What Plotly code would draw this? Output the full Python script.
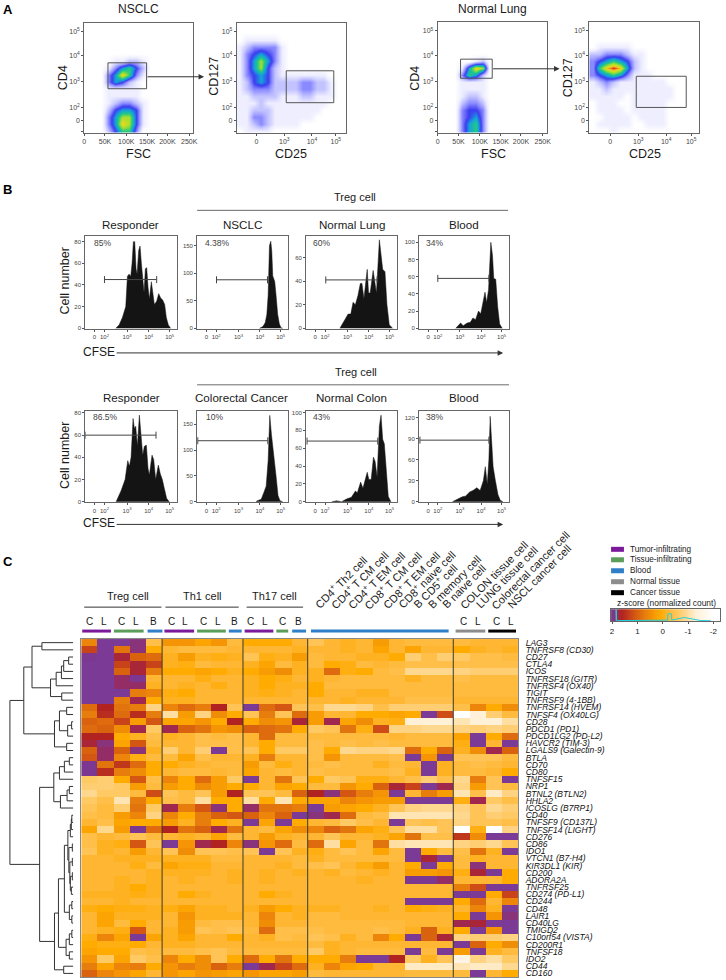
import numpy as np
import plotly.graph_objects as go

W, H = 726, 980
FONT = "Liberation Sans"

# ---------- Panel A: density (0-9 levels on a coarse display-channel grid)
GRID = [3.5, 10.5, 17.5, 24.5, 31.5, 38.5, 45.5, 52.5, 59.5, 66.5, 73.5, 80.5, 87.5, 94.5, 101.5, 108.5]
nsclc_cd4 = [
 [0]*16, [0]*16, [0]*16, [0]*16, [0]*16,
 [0,0,0,0,1,1,2,2,1,0,0,0,0,0,0,0],
 [0,0,0,1,3,5,6,4,2,0,0,0,0,0,0,0],
 [0,0,0,3,5,8,6,3,1,0,0,0,0,0,0,0],
 [0,0,0,3,5,4,2,1,0,0,0,0,0,0,0,0],
 [0,0,0,1,1,1,1,1,0,0,0,0,0,0,0,0],
 [0,0,0,1,1,1,1,1,0,0,0,0,0,0,0,0],
 [0,0,0,1,2,3,3,2,1,0,0,0,0,0,0,0],
 [0,0,0,2,4,5,5,4,1,0,0,0,0,0,0,0],
 [0,0,0,3,5,7,7,4,1,0,0,0,0,0,0,0],
 [0,0,0,3,5,8,7,4,1,0,0,0,0,0,0,0],
 [0,0,0,2,4,6,6,3,0,0,0,0,0,0,0,0],
]
nsclc_cd127 = [
 [0]*16, [0]*16,
 [0,1,1,1,1,1,0,0,0,0,0,0,0,0,0,0],
 [1,2,3,3,3,3,1,0,0,0,0,0,0,0,0,0],
 [1,3,4,5,4,3,1,0,0,0,0,0,0,0,0,0],
 [1,3,5,7,5,3,1,0,0,0,0,0,0,0,0,0],
 [1,3,5,7,4,2,1,0,0,0,0,0,0,0,0,0],
 [1,3,4,5,4,2,1,1,1,1,1,1,1,0,0,0],
 [1,2,4,5,4,2,2,2,2,3,3,2,2,1,0,0],
 [1,2,3,3,3,2,2,2,2,3,3,2,2,1,0,0],
 [1,1,2,2,2,2,1,1,1,2,2,1,1,1,0,0],
 [1,1,1,2,1,1,1,1,1,1,1,1,1,0,0,0],
 [1,1,2,2,2,1,1,1,1,1,1,1,0,0,0,0],
 [1,1,3,3,2,1,1,1,1,1,1,0,0,0,0,0],
 [1,1,2,3,2,1,1,1,1,0,0,0,0,0,0,0],
 [0,1,1,1,1,0,0,0,0,0,0,0,0,0,0,0],
]
lung_cd4 = [
 [0]*16, [0]*16, [0]*16, [0]*16, [0]*16,
 [0,0,0,0,0,1,2,0,0,0,0,0,0,0,0,0],
 [0,0,0,1,5,8,7,0,0,0,0,0,0,0,0,0],
 [0,0,0,3,6,5,2,0,0,0,0,0,0,0,0,0],
 [0,0,0,1,1,1,1,0,0,0,0,0,0,0,0,0],
 [0,0,0,1,1,1,1,0,0,0,0,0,0,0,0,0],
 [0,0,0,1,2,2,1,0,0,0,0,0,0,0,0,0],
 [0,0,0,2,3,3,2,0,0,0,0,0,0,0,0,0],
 [0,0,0,3,4,4,3,0,0,0,0,0,0,0,0,0],
 [0,0,0,3,4,5,3,0,0,0,0,0,0,0,0,0],
 [0,0,0,3,5,6,3,0,0,0,0,0,0,0,0,0],
 [0,0,0,3,5,6,3,0,0,0,0,0,0,0,0,0],
]
lung_cd127 = [
 [0]*16, [0]*16, [0]*16,
 [0,1,1,1,1,1,0,0,0,0,0,0,0,0,0,0],
 [2,2,3,3,3,2,1,1,0,0,0,0,0,0,0,0],
 [3,4,5,6,5,4,2,1,0,0,0,0,0,0,0,0],
 [3,6,8,9,8,5,2,1,0,0,0,0,0,0,0,0],
 [3,4,5,6,5,3,1,1,1,0,0,0,0,0,0,0],
 [1,2,3,2,1,1,1,1,1,1,1,0,0,0,0,0],
 [1,1,2,1,1,1,1,1,1,1,1,1,0,0,0,0],
 [1,1,1,1,1,0,1,1,1,1,1,1,0,0,0,0],
 [0,1,1,1,0,0,1,1,1,1,1,0,0,0,0,0],
 [0,1,1,1,1,0,1,1,1,1,1,0,0,0,0,0],
 [0,0,1,1,1,1,0,1,1,1,1,0,0,0,0,0],
 [0,1,1,1,1,1,0,0,1,1,1,0,0,0,0,0],
 [0,0,0,1,0,0,0,0,0,0,0,0,0,0,0,0],
]

# ---------- Panel B: CFSE histograms (channel, cell count)
row1_resp_x = [92,102,112,122,127,132,137,141,145,149,153,156,161,165,169,173,177,181,185,189,193,199,203,208,215,221,227,233,239,244,250,257]
row1_resp_y = [0,3,10,20,48,50,48,60,80,80,55,50,72,76,60,45,33,55,56,38,27,43,35,22,25,32,28,26,22,10,3,0]
row1_nsclc_x = [190,200,207,212,216,220,224,227,230,236,240,245,250,255,260]
row1_nsclc_y = [0,3,10,25,60,150,158,140,95,85,60,25,8,1,0]
row1_lung_x = [103,118,128,136,143,150,158,165,170,176,186,190,195,204,210,214,223,228,233,240,246,253,263]
row1_lung_y = [0,8,12,12,22,20,28,38,38,25,50,30,30,49,35,30,75,62,50,48,20,3,0]
row1_blood_x = [113,128,136,148,158,166,174,183,190,196,203,208,214,221,226,230,236,242,248,256]
row1_blood_y = [0,6,3,6,7,12,10,20,17,28,42,30,45,100,85,58,57,25,5,0]
row2_resp_x = [93,108,120,128,133,138,144,148,152,157,163,168,173,178,184,189,193,201,206,212,220,226,232,238,245,253]
row2_resp_y = [0,10,20,37,32,40,75,66,68,50,78,60,42,50,51,30,24,42,38,20,33,25,20,12,3,0]
row2_crc_x = [180,195,203,210,216,221,226,232,240,246,252,260]
row2_crc_y = [1,5,18,30,80,167,130,90,50,12,2,0]
row2_colon_x = [78,93,108,123,138,150,156,166,173,186,191,198,205,210,216,223,228,233,238,243,250,258]
row2_colon_y = [0,1,0,3,5,12,10,22,15,33,25,25,50,45,28,85,97,70,65,40,6,0]
row2_blood_x = [103,123,133,143,156,166,178,188,198,204,210,215,219,223,228,235,243,250,258]
row2_blood_y = [0,5,7,8,14,16,20,16,30,50,25,60,122,90,50,30,10,2,0]

# ---------- Panel C: z-scores
gene_labels = ["LAG3","TNFRSF8 (CD30)","CD27","CTLA4","ICOS","TNFRSF18 (GITR)","TNFRSF4 (OX40)","TIGIT",
 "TNFRSF9 (4-1BB)","TNFRSF14 (HVEM)","TNFSF4 (OX40LG)","CD28","PDCD1 (PD1)","PDCD1LG2 (PD-L2)","HAVCR2 (TIM-3)",
 "LGALS9 (Galectin-9)","BTLA","CD70","CD80","TNFSF15","NRP1","BTNL2 (BTLN2)","HHLA2","ICOSLG (B7RP1)","CD40",
 "TNFSF9 (CD137L)","TNFSF14 (LIGHT)","CD276","CD86","IDO1","VTCN1 (B7-H4)","KIR3DL1 (KIR)","CD200","ADORA2A",
 "TNFRSF25","CD274 (PD-L1)","CD244","CD48","LAIR1","CD40LG","TMIGD2","C10orf54 (VISTA)","CD200R1","TNFSF18",
 "IDO2","CD44","CD160"]
tcell_subsets = [
 [.6,2,2,1.9,-.4,.4,.4,.2,.4,-.3,.1,.1,.1,-.2],
 [1.3,2,.8,1.9,.1,-.2,-.3,-.3,-.3,-.2,-.2,-.2,-.2,-.1],
 [1.95,2,1.7,1.0,.9,-.1,.3,-.1,0,-.1,-.5,0,-.1,.3],
 [2,2,1.3,1.7,1.3,-.1,0,-.3,-.2,-.2,-.1,.2,-.3,-.1],
 [2,2,1.0,1.7,.7,.1,.1,.2,.1,-.1,.1,.3,.5,-.1],
 [2,2,1.85,1.95,-.2,-.2,-.2,0,-.2,-.2,-.1,.1,0,-.2],
 [2,2,1.85,1.85,-.1,-.2,-.1,-.2,0,-.2,-.1,.1,-.1,-.1],
 [2,2,2,.7,.6,0,.1,-.2,-.2,-.2,-.1,0,-.1,-.2],
 [2,2,.7,1.8,.1,-.1,-.1,-.2,-.2,-.2,-.2,-.2,-.2,-.2],
 [.9,1.6,.8,.7,-.8,.6,.9,.7,1.6,-.5,2,.9,1.1,-.5],
 [.7,1.5,.9,1.5,.7,-1.0,.3,-.8,.5,.1,-.5,.7,-.5,.9],
 [1.0,.9,1.3,.3,1.1,.2,.2,.4,.1,1.6,.1,.5,.4,1.7],
 [.9,1.0,.5,1.8,-.6,1.8,1.0,.8,.4,.5,1.0,.9,.8,.1],
 [1.6,1.6,.1,-.1,-.4,-.1,-.2,-.4,-.3,-.4,-.2,.9,-.3,-.3],
 [1.7,1.9,.2,1.1,-.3,-.2,-.2,-.4,-.4,-.4,-.2,.1,-.3,-.3],
 [1.0,1.85,1.0,1.9,-.1,-.7,-.2,-.7,2,-.4,-.5,.1,-.6,-.6],
 [1.1,1.85,.6,0,-.3,-.3,.2,-.4,-.2,-.2,-.1,.7,-.2,-.2],
 [1.95,.8,1.4,.9,.1,.1,-.1,-.2,-.3,-.3,.3,-.3,0,-.2],
 [1.95,1.5,.7,.5,.1,-.2,-.3,-.3,-.2,-.3,.2,-.2,-.3,-.2],
 [-.6,-.7,.1,1.1,-.4,.6,.1,.9,.3,-.6,2,-.2,.8,-.5],
 [-.7,-.7,-.6,.3,-.3,.3,.1,.5,.3,.1,.1,-.2,.2,.1],
 [-.9,-.6,-.6,-.3,1.2,-.5,-.3,-.5,.3,1.6,-.5,-.5,-.3,1.0],
 [-.6,-.4,-1.1,.7,.1,-.4,-.3,-1.0,.1,.1,-1.0,.1,-1.1,.1],
 [-.5,-.3,-.7,.8,-.6,1.8,.7,1.1,1.9,.1,1.85,.8,.8,.7],
 [-.4,-.3,.3,.6,-.8,.6,.1,.7,1.0,1.1,1.0,.6,1.0,2],
 [-.2,-.4,.2,.1,.1,.3,-.1,.7,.1,-.1,2,.2,2,.1],
 [.2,-.9,.3,1.95,.9,1.6,.8,1.0,1.8,.8,-.2,-.3,.2,.5],
 [-.4,-.2,-.3,-.5,-.3,-.2,-.1,-.2,.2,-.3,-.2,.3,-.1,-.2],
 [-.4,-.1,0,1.1,-.5,2,.4,1.8,1.6,.6,1.9,.4,.9,-.3],
 [-.5,-.1,-.2,.3,-.2,-.5,.5,-.5,-.5,-.4,-.5,2,-.5,-.1],
 [-.2,-.2,-.1,-.1,-.1,-.1,-.1,-.1,-.3,-.3,-.2,-.2,-.2,-.3],
 [-.2,-.2,-.2,0,-.3,.2,0,0,-.2,-.2,-.2,-.2,-.1,-.3],
 [-.2,-.2,-.2,-.2,-.1,-.1,-.1,-.1,-.2,-.1,-.2,-.1,-.2,-.1],
 [-.2,-.2,-.1,-.2,-.1,-.2,-.1,-.2,-.2,-.1,-.2,-.1,-.2,-.2],
 [-.2,-.2,-.1,.1,-.1,-.2,-.2,-.2,-.2,-.2,-.2,-.2,-.2,-.2],
 [-.1,-.1,-.1,0,-.1,-.2,.1,-.1,-.2,-.2,-.2,.1,-.1,-.2],
 [-.2,-.2,-.1,-.2,-.2,-.2,-.2,-.2,-.2,-.2,-.2,-.2,-.2,-.2],
 [0,.1,0,0,-.1,0,.2,-.1,-.1,-.2,-.1,.3,.1,-.1],
 [-.2,.2,-.1,-.1,-.1,-.2,.4,-.1,-.1,-.1,-.2,.6,-.2,-.1],
 [-.2,.2,-.3,.1,-.2,-.2,.3,-.3,-.4,-.4,-.2,.5,-.2,-.2],
 [-.2,-.1,0,1.1,-.2,-.1,.3,-.5,-.4,-.5,-.3,.9,-.4,-.4],
 [0,.6,.2,2,.2,-.1,.2,-.2,-.2,.1,-.2,-.1,-.4,-.3],
 [.1,0,0,.1,-.2,-.1,-.1,-.2,-.2,-.2,-.2,-.2,-.2,-.2],
 [.2,.1,.1,-.4,-.3,-.3,-.3,-.4,-.5,-.3,-.3,-.3,-.3,-.3],
 [.4,-.6,.2,-.6,-.4,.6,.1,.5,-.5,.1,.9,.1,.8,.1],
 [.7,.2,.6,.7,.1,.4,.7,.5,1.0,.7,2,1.8,1.3,.9],
 [1.0,.6,.4,.2,-.2,.4,.2,.4,.3,.2,.4,.2,.2,.3],
]
blood_tissue = [
 [-.5,-.2,-.1,-.2,.3,-.2,-.3,-.3,-.3,-.3,-.2,-.2,-.2],
 [-.2,-.2,-.1,-.2,.2,-.2,.2,-.2,-.2,.1,-.1,-.2,-.1],
 [-.3,-.2,-.2,-.1,-.1,.1,-.7,-.4,-.7,-.6,-.4,-.4,-.3],
 [-.3,.1,0,-.3,-.2,-.3,-.4,-.4,-.4,-.4,-.4,-.4,-.4],
 [-.1,.9,0,.1,-.3,-.4,-.9,-.9,-.9,-.8,-.7,-.7,-.7],
 [-.1,-.2,-.3,-.3,-.3,-.3,-.1,-.3,-.3,-.4,-.3,-.3,-.3],
 [.1,-.3,-.3,-.3,-.3,-.3,-.3,-.3,-.3,-.3,-.3,-.3,-.3],
 [.1,-.2,-.2,-.1,-.1,-.3,-.3,-.3,-.3,-.3,-.3,-.3,-.3],
 [-.2,-.2,-.1,-.2,-.2,-.2,-.4,-.4,-.4,-.2,-.2,-.2,-.2],
 [-.4,-.9,-.9,-.8,-.4,-.7,-.7,-.7,-.7,-.4,.6,.1,.5],
 [.3,-.2,-.2,.1,.1,.2,.1,2,1.2,-2,-1.3,-.7,-.3],
 [.3,1.8,.2,.5,-.1,0,-1.3,-1.3,-1.3,-1.1,-1.3,-1.3,-1.0],
 [-.6,-.5,.8,0,1.2,-.8,-.8,-.9,-.9,-.8,-.7,-.8,-.7],
 [-.3,-.3,-.3,-.3,-.3,-.2,-.3,-.3,-.3,.2,2,.1,.9],
 [-.4,-.3,-.4,-.3,-.4,-.3,-.3,-.3,-.3,0,2,-.2,2],
 [-.4,.1,-.9,-.8,-.8,-.9,.9,.1,1.0,-.1,.5,1.8,1.0],
 [-.4,.4,-.3,-.3,-.3,-.4,2,.4,2,-.5,-.5,-.5,-.3],
 [-.3,-.4,-.3,-.3,-.1,-.3,-.2,2,-.1,-.3,-.4,-.3,-.2],
 [-.4,-.3,-.3,-.3,-.3,-.4,-.1,2,-.1,-.3,-.3,-.2,.1],
 [.1,-.6,-.5,0,0,-.2,-.4,-.7,-.4,-.9,.7,-.5,2],
 [-.3,-.3,.4,.1,1.0,1.7,1.3,2,1.8,-.8,.3,-.5,-.3],
 [1.6,1.9,1.1,.7,.4,2,-.2,.7,.3,-1.1,-.4,-1.2,-.8],
 [.2,.2,.6,.4,.3,.3,2,2,2,0,1.8,-.6,-.4],
 [2,.3,.2,.1,-.1,-.5,-.8,-.9,-.9,-.8,-.5,-.9,-.7],
 [1.9,1.8,.9,-.3,-.4,-1.1,-1.1,-1.1,-1.1,-.9,-.5,-.7,-.6],
 [-.2,-.3,-.6,-.4,-.2,2,-.5,-.4,-.5,-.8,-.5,-.5,-.4],
 [.6,1.0,.8,.2,0,-.5,-1.0,-1.0,-.5,-2,0,-2,-.8],
 [-.2,-.5,-.2,-.2,-.1,.2,.8,-.4,-.4,1.4,.5,2,2],
 [.9,-1.0,.2,-.3,.8,-1.0,-1.1,-1.1,-1.1,-.8,-.7,-.9,-.5],
 [0,-.3,-.5,-.3,.2,-.3,2,.1,-.3,-.4,.8,-.1,2],
 [-.1,-.3,-.3,-.3,-.3,-.3,2,1.7,2,-.3,-.1,-.2,-.2],
 [-.4,-.5,-.2,0,.3,-.2,.1,2,.1,-.3,1.9,-.2,-.2],
 [-.2,-.1,-.3,-.2,-.1,-.2,.3,.3,.4,0,1.7,2,.1],
 [-.2,-.2,-.2,-.1,-.2,-.2,1.95,1.95,1.85,-.2,-.2,-.2,.1],
 [-.2,-.2,-.2,-.2,-.2,-.2,-.2,-.2,-.2,.7,1.2,2,2],
 [-.2,-.2,-.2,-.2,-.2,-.2,-.2,-.2,-.2,2,2,.1,1.3],
 [-.2,-.2,-.2,-.2,-.2,-.2,2,2,2,.1,.9,-.2,.6],
 [-.1,-.1,-.2,-.2,-.1,-.2,.1,0,-.1,-.2,.6,-.1,2],
 [-.3,-.3,-.2,-.2,-.2,-.2,-.2,-.2,-.2,.1,2,.4,1.9],
 [-.3,-.3,-.3,-.3,-.3,-.3,-.2,-.2,-.2,1.8,1.7,2,2],
 [-.4,-.3,-.3,-.3,-.4,-.3,-.1,1.0,-.1,.1,2,.4,2],
 [-.5,-.4,-.1,-.3,.6,.1,2,1.0,1.7,-.8,-.7,-.7,-.8],
 [-.3,-.1,-.2,-.2,-.2,-.2,-.2,-.2,-.2,2,1.0,.1,.5],
 [-.6,-.1,-.2,-.3,-.3,-.3,2,-.3,2,.3,2,-.1,-.3],
 [.1,.1,.7,2,2,1.6,-.6,-.1,-.5,-1.5,-.8,-1.0,-.6],
 [-.1,.6,.2,.1,-.2,-.2,-1.2,-1.2,-1.2,-1.1,-1.2,-1.2,-.9],
 [-.3,-.2,-.2,-.2,-.2,-.2,-.3,-.3,-.3,-.3,2,-.2,.1],
]
# dendrogram: (merge height, child, child); integers are row numbers
tree_tregs = (41.7,(31.7,0,1),(23,(17.3,(12,(9.7,(4.7,2,3),4),5),6),(11.7,7,8)))
tree_act = (19,(14,(6.7,9,10),(5.7,(1.7,11,12),13)),(6.7,14,15))
tree_mid = (19.7,(14,(9,(4,16,17),18),19),(13,(6.3,(4,20,21),22),23))
tree_low_a = (5.5,(3,(2,(1.5,24,25),26),27),(4.5,(1,28,29),(3.5,(1,30,31),(3,(1,32,33),(2,34,35)))))
tree_low_b = (4,(1.5,36,37),(1.5,38,39))
tree_low_c = (7.3,(4,(1.5,40,41),42),(4,43,44))
tree_root = (64,(50,tree_tregs,tree_act),(34,tree_mid,(19,(15,(9,tree_low_a,tree_low_b),tree_low_c),(9.7,45,46))))
# colour-key density curve
key_x = [1.84,1.84,1.82,1.82,1.78,1.2,.6,0,-.2,-.2,-.24,-.31,-.35,-.35,-.5,-.7,-.85,-1.0,-1.2,-1.5,-1.9]
key_y = [.02,1,1,.04,.04,.05,.05,.06,.08,.6,.62,.62,.6,.1,.14,.22,.3,.24,.14,.05,.03]

density_scale = [[0,"#ffffff"],[.11,"#eeeeff"],[.22,"#c4c4ff"],[.33,"#8c8cff"],[.44,"#3c3cf0"],[.55,"#16a0dc"],
                 [.66,"#20c888"],[.77,"#a0e030"],[.88,"#f0d820"],[1,"#e83020"]]
z_scale = [[0,"#ffffff"],[.175,"#fff0d8"],[.275,"#ffd890"],[.375,"#ffc455"],[.45,"#ffb632"],[.525,"#ffab00"],
           [.6,"#f59505"],[.675,"#e77d0c"],[.75,"#d9620f"],[.825,"#c8421a"],[.9,"#b12320"],[.95,"#a0284f"],
           [.9875,"#7c3890"],[1,"#7b3a96"]]

fig = go.Figure()
layout = dict(width=W, height=H, margin=dict(l=0, r=0, t=0, b=0), paper_bgcolor="white", plot_bgcolor="white",
              showlegend=False, font=dict(family=FONT, color="#222"), hovermode=False)
annots, shapes = [], []

def dom_x(a, b): return [a / W, b / W]
def dom_y(a, b): return [1 - b / H, 1 - a / H]

def text(x, y, s, size=11.5, color="#1a1a1a", anchor="center", angle=0, bold=False):
    annots.append(dict(xref="paper", yref="paper", x=x / W, y=1 - y / H, text=f"<b>{s}</b>" if bold else s,
                       showarrow=False, xanchor=anchor, yanchor="middle", textangle=angle,
                       font=dict(size=size, color=color, family=FONT)))

def rule(x0, x1, y, color="#333", width=1):
    shapes.append(dict(type="line", xref="paper", yref="paper", x0=x0 / W, x1=x1 / W, y0=1 - y / H, y1=1 - y / H,
                       line=dict(color=color, width=width)))

def arrow(x0, x1, y):
    annots.append(dict(xref="paper", yref="paper", x=x1 / W, y=1 - y / H, ax=x0 - x1, ay=0, axref="pixel", ayref="pixel",
                       text="", showarrow=True, arrowhead=2, arrowsize=1.1, arrowwidth=1, arrowcolor="#333"))

def axis(n, kind, domain, rng, tickvals=None, ticktext=None, size=6.5, **kw):
    d = dict(domain=domain, range=rng, showgrid=False, zeroline=False, showline=True, mirror=True,
             linecolor="#666", linewidth=1, ticks="outside", ticklen=2, tickwidth=0.7, tickcolor="#555",
             tickfont=dict(size=size, color="#444", family=FONT), anchor=f"{'y' if kind == 'x' else 'x'}{n}",
             tickangle=0, fixedrange=True)
    if tickvals is not None:
        d.update(tickmode="array", tickvals=tickvals, ticktext=ticktext)
    d.update(kw)
    layout[f"{kind}axis{n}"] = d

def sup(p): return f"10<sup>{p}</sup>"

# --- Panel A
fsc_vals, fsc_text = [0, 21, 42.5, 63.5, 84, 106], ["0", "50K", "100K", "150K", "200K", "250K"]
y_vals, y_text = [9, 33, 59, 85, 98, 109], [sup(5), sup(4), sup(3), sup(2), "0", ""]
panels_a = [
 (1, 83, 193, 22, 132, nsclc_cd4, fsc_vals, fsc_text, (24, 63, 40, 66)),
 (2, 237, 347, 22, 132, nsclc_cd127, [20, 48, 76, 100], ["0", sup(3), sup(4), sup(5)], (50, 98, 48, 80)),
 (3, 440, 550, 21, 132, lung_cd4, fsc_vals, fsc_text, (23, 55, 37, 56)),
 (4, 593, 704, 21, 132, lung_cd127, [21, 49, 77, 102], ["0", sup(3), sup(4), sup(5)], (47, 97, 54, 85)),
]
for n, x0, x1, y0, y1, grid, xv, xt, gate in panels_a:
    axis(n, "x", dom_x(x0, x1), [0, 110], xv, xt, size=7)
    axis(n, "y", dom_y(y0, y1), [110, 0], y_vals, y_text, size=7)
    fig.add_trace(go.Heatmap(x=GRID, y=GRID, z=grid, zmin=0, zmax=9, colorscale=density_scale, zsmooth="best",
                             showscale=False, xaxis=f"x{n}", yaxis=f"y{n}", hoverinfo="skip"))
    shapes.append(dict(type="rect", xref=f"x{n}", yref=f"y{n}", x0=gate[0], x1=gate[1], y0=gate[2], y1=gate[3],
                       line=dict(color="#555", width=1)))
arrow(146, 204, 76)
arrow(495, 563, 68)
text(138, 8, "NSCLC", 12); text(495, 8, "Normal Lung", 12)
for x in (138, 292, 496, 649):
    text(x, 153, "FSC" if x in (138, 496) else "CD25", 12.5)
text(61, 77, "CD4", 12.5, angle=-90); text(417, 77, "CD4", 12.5, angle=-90)
text(214, 75, "CD127", 12.5, angle=-90); text(571, 77, "CD127", 12.5, angle=-90)

# --- Panel B
cfse_vals, cfse_text = [28, 58, 126, 191, 254], ["0", sup(2), sup(3), sup(4), sup(5)]
panels_b = [
 (5, 84, 177, 236, 329, row1_resp_x, row1_resp_y, 85, [0, 20, 40, 60, 80], (58, 215, 45)),
 (6, 197, 289, 236, 329, row1_nsclc_x, row1_nsclc_y, 167, [0, 50, 100, 150], (59, 214, 88)),
 (7, 307, 399, 236, 329, row1_lung_x, row1_lung_y, 78, [0, 20, 40, 60], (60, 216, 41)),
 (8, 421, 512, 236, 329, row1_blood_x, row1_blood_y, 107, [0, 20, 40, 60, 80, 100], (58, 215, 58)),
 (9, 84, 177, 411, 503, row2_resp_x, row2_resp_y, 82, [0, 20, 40, 60, 80], (0, 213, 60)),
 (10, 197, 289, 411, 503, row2_crc_x, row2_crc_y, 176, [0, 50, 100, 150], (2, 215, 118)),
 (11, 307, 399, 411, 503, row2_colon_x, row2_colon_y, 102, [0, 20, 40, 60, 80, 100], (3, 218, 68)),
 (12, 421, 512, 411, 503, row2_blood_x, row2_blood_y, 130, [0, 30, 60, 90, 120], (3, 215, 88)),
]
for n, x0, x1, y0, y1, hx, hy, top, yt, g in panels_b:
    axis(n, "x", dom_x(x0, x1), [0, 277], cfse_vals, cfse_text, size=6)
    axis(n, "y", dom_y(y0, y1), [-0.008 * top, top], yt, [str(v) for v in yt], size=6)
    fig.add_trace(go.Scatter(x=hx, y=hy, mode="lines", fill="tozeroy", fillcolor="#141414",
                             line=dict(color="#141414", width=0.5), xaxis=f"x{n}", yaxis=f"y{n}", hoverinfo="skip"))
    fig.add_trace(go.Scatter(x=[g[0], g[1]], y=[g[2], g[2]], mode="lines+markers", line=dict(color="#444", width=1),
                             marker=dict(symbol="line-ns-open", size=5, line=dict(color="#444", width=1)),
                             xaxis=f"x{n}", yaxis=f"y{n}", hoverinfo="skip"))
text(356, 197, "Treg cell", 11); rule(197, 511, 210, "#444", 0.8)
for x, s in ((130, "Responder"), (243, "NSCLC"), (353, "Normal Lung"), (467, "Blood")):
    text(x, 224, s, 11.6)
text(357, 372, "Treg cell", 11); rule(197, 512, 385, "#444", 0.8)
for x, s in ((131, "Responder"), (242, "Colorectal Cancer"), (353, "Normal Colon"), (467, "Blood")):
    text(x, 398, s, 11.6)
for x, y, s in ((101, 243, "85%"), (218, 243, "4.38%"), (323, 243, "60%"), (437, 243, "34%"),
                (105, 417, "86.5%"), (215, 417, "10%"), (323, 417, "43%"), (437, 417, "38%")):
    text(x, y, s, 8.5, "#444")
text(64, 281, "Cell number", 12.5, angle=-90); text(63, 456, "Cell number", 12.5, angle=-90)
text(98, 352, "CFSE", 12); arrow(118, 506, 353)
text(98, 524, "CFSE", 12); arrow(118, 506, 525)
text(6, 9, "A", 13, "#000", bold=True); text(6, 189, "B", 13, "#000", bold=True); text(6, 562, "C", 13, "#000", bold=True)

# --- Panel C heat map
z_rows = [a + b for a, b in zip(tcell_subsets, blood_tissue)]
rows = list(range(len(z_rows)))
axis(13, "x", dom_x(80, 521), [-0.5, 26.5], [], [], ticks="", linecolor="#888")
axis(13, "y", dom_y(640, 979), [46.5, -0.5], rows, [f"<i>{g}</i>" for g in gene_labels], size=8.5, side="right",
     ticks="outside", ticklen=5, tickcolor="rgba(0,0,0,0)", linecolor="#888")
layout["yaxis13"]["tickfont"]["color"] = "#111"
fig.add_trace(go.Heatmap(z=z_rows, x=list(range(27)), y=rows, zmin=-2, zmax=2, colorscale=z_scale, showscale=False,
                         xaxis="x13", yaxis="y13", hoverinfo="skip"))
for c in (4.5, 9.5, 13.5, 22.5):
    shapes.append(dict(type="line", xref="x13", yref="y13", x0=c, x1=c, y0=-0.5, y1=46.5, line=dict(color="#3a3a2a", width=1)))

tx, ty = [], []
def walk(node):
    if isinstance(node, int):
        return 0.0, float(node)
    h, a, b = node
    ha, ya = walk(a); hb, yb = walk(b)
    tx.extend([ha, h, h, hb, None]); ty.extend([ya, ya, yb, yb, None])
    return h, (ya + yb) / 2
walk(tree_root)
axis(14, "x", dom_x(0, 72), [72, 0], showline=False, mirror=False, ticks="", showticklabels=False, anchor="y13")
fig.add_trace(go.Scatter(x=tx, y=ty, mode="lines", line=dict(color="#333", width=1), xaxis="x14", yaxis="y13", hoverinfo="skip"))

# column header
text(127, 597, "Treg cell", 11); rule(83, 161, 608)
text(202, 597, "Th1 cell", 11); rule(165, 239, 608)
text(275, 597, "Th17 cell", 11); rule(247, 304, 608)
for x, s in ((88,"C"),(103,"L"),(121,"C"),(135,"L"),(153,"B"),(171,"C"),(185,"L"),(203,"C"),(218,"L"),(235,"B"),
             (251,"C"),(266,"L"),(283,"C"),(299,"B"),(466,"C"),(481,"L"),(499,"C"),(514,"L")):
    text(x, 622, s, 10)
PURPLE, GREEN, BLUE, GRAY, BLACK = "#7a1a9a", "#5a9e5a", "#2f7fc8", "#8c8c8c", "#000000"
for a, b, col in ((81,110,PURPLE),(113,143,GREEN),(147,162,BLUE),(164,194,PURPLE),(197,226,GREEN),(229,242,BLUE),
                  (245,274,PURPLE),(277,289,GREEN),(293,307,BLUE),(312,451,BLUE),(458,488,GRAY),(491,519,BLACK)):
    rule(a, b, 632, col, 3)
for x, y, s in ((342,583,"CD4<sup>+</sup> Th2 cell"),(361,581,"CD4<sup>+</sup> T CM cell"),(378,581,"CD4<sup>+</sup> T EM cell"),
                (395,581,"CD8<sup>+</sup> T CM cell"),(413,581,"CD8<sup>+</sup> T EM cell"),(429,580,"CD8<sup>+</sup> naive cell"),
                (437,587,"B CD5<sup>+</sup> cell"),(457,583,"B memory cell"),(467,587,"B naive cell"),
                (497,576,"COLON tissue cell"),(510,578,"LUNG tissue cell"),(534,571,"Colorectal cancer cell"),(543,577,"NSCL cancer cell")):
    text(x, y, s, 11, angle=-45)

# legend
for y, col, s in ((550,PURPLE,"Tumor-infiltrating"),(560.5,GREEN,"Tissue-infiltrating"),(571.5,BLUE,"Blood"),
                  (582.5,GRAY,"Normal tissue"),(593.5,BLACK,"Cancer tissue")):
    rule(615, 628, y, col, 5)
    text(632, y, s, 8.2, anchor="left")
text(671, 604, "z-score (normalized count)", 8.4)

# colour key
key_ramp = np.linspace(2.04, -2.26, 160)
axis(15, "x", dom_x(615, 725), [2.04, -2.26], [2, 1, 0, -1, -2], ["2", "1", "0", "-1", "-2"], size=8, ticks="outside", ticklen=2)
layout["xaxis15"]["tickfont"]["color"] = "#222"
axis(15, "y", dom_y(610, 622), [0, 1], [], [], ticks="")
fig.add_trace(go.Heatmap(x=key_ramp, y=[0, 1], z=[key_ramp, key_ramp], zmin=-2, zmax=2, colorscale=z_scale, showscale=False,
                         xaxis="x15", yaxis="y15", hoverinfo="skip"))
fig.add_trace(go.Scatter(x=key_x, y=key_y, mode="lines", line=dict(color="#1fd3de", width=1), xaxis="x15", yaxis="y15", hoverinfo="skip"))

layout["annotations"] = annots
layout["shapes"] = shapes
fig.update_layout(**layout)
fig.write_html("out.html", config=dict(displayModeBar=False), post_script="document.body.style.margin='0';document.body.style.overflow='hidden';")
